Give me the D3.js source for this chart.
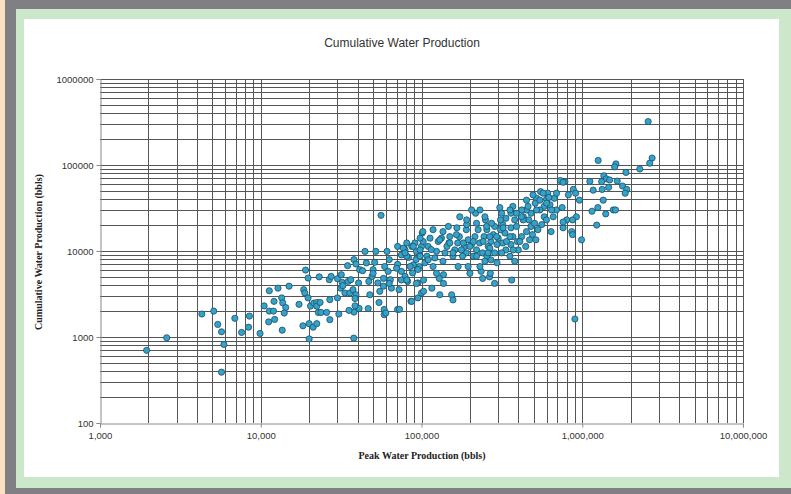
<!DOCTYPE html>
<html>
<head>
<meta charset="utf-8">
<script src="https://cdn.jsdelivr.net/npm/d3@7"></script>
<style>
  html, body { margin: 0; padding: 0; background: #7f7f84; }
  svg { display: block; }
</style>
</head>
<body>
<svg width="791" height="494"></svg>
<script>
const width = 791;
const height = 494;

// chart text
const chartTitle = "Cumulative Water Production";
const xTitle = "Peak Water Production (bbls)";
const yTitle = "Cumulative Water Production (bbls)";

// axis domains and labelled ticks
const xDomain = [1000, 10000000];
const yDomain = [100, 1000000];
const xLabelTicks = [1000, 10000, 100000, 1000000, 10000000];
const yLabelTicks = [100, 1000, 10000, 100000, 1000000];

// wells: peak water (bbls) vs cumulative water (bbls)
const peakWater = [
  1950, 2600, 4300, 5100, 5400, 5700, 5900, 5700, 6900, 8500, 8400, 7600, 9900,
  11300, 12800, 15000, 10500, 11300, 12000, 12100, 13500, 13700, 14300, 14000, 11200, 12200, 13600,
  17300, 18300, 20000, 20000, 21200, 22300, 19000, 19700, 18500, 18800, 19700, 20400, 21400, 22300,
  22300, 23400, 22800, 23700, 25700, 23100, 26700, 27400, 26900, 26900, 30600, 30000, 32100, 31400,
  32400, 33400, 35000, 36300, 38000, 34700, 39100, 35800, 37500, 39100, 38600, 38000, 35400, 37900,
  40900, 40600, 41200, 43000, 44500, 45400, 47000, 47700, 46600, 52000, 51100, 50000, 49300, 53500,
  55000, 54400, 58600, 58600, 56000, 59000, 61000, 63000, 62000, 64000, 65000, 71000, 71000, 75000,
  79000, 83000, 71000, 75000, 79000, 82000, 72500, 86000, 95000, 88000, 95000, 92500, 97000, 101000,
  100000, 50000, 58000, 58000, 63000, 70000, 75000, 81000, 87000, 93000, 97000, 103000, 100000, 60000,
  38600, 30000, 31700,
  2570000, 2720000, 2630000, 2280000, 1870000, 1620000, 1590000, 1256000, 1362000, 1410000, 1320000,
  1480000, 1650000, 1115000, 1170000, 1330000, 1460000, 1780000, 1890000, 1850000, 1350000, 1250000,
  1150000, 1400000, 1560000, 1610000, 1230000, 990000, 900000, 880000, 910000, 960000, 820000, 780000,
  730000, 760000, 750000, 920000, 870000, 800000, 760000, 860000, 870000, 760000, 690000, 670000,
  660000, 640000, 630000, 610000, 600000, 580000, 620000, 550000, 520000, 510000, 580000, 560000,
  530000, 490000, 480000, 450000, 430000, 420000, 465000, 480000, 505000, 450000, 470000, 515000,
  445000, 420000, 395000, 400000, 370000, 360000, 380000, 360000, 370000, 360000, 355000, 380000,
  364000, 335000, 320000, 315000, 310000, 330000, 310000, 300000, 320000, 335000, 315000, 295000,
  285000, 280000, 270000, 285000, 270000, 295000, 265000, 285000, 268000, 250000, 255000, 245000,
  260000, 240000, 255000, 248000, 230000, 235000, 240000, 217000, 225000, 215000, 220000, 210000,
  205000, 200000, 190000, 195000, 185000, 190000, 180000, 172000, 168000, 166000, 161000, 157000,
  150000, 147000, 154000, 157000, 148000, 144000, 140000, 137000, 130000, 137000, 129000, 133000,
  127000, 124000, 121000, 118000, 116000, 113000, 110000, 108000, 105000, 103000, 102000, 98000,
  95000, 93000, 87000, 81000, 81000, 77000, 73000, 91000, 89000,
  102500, 115000, 130000, 150000, 157000, 177000, 200000, 220000, 242000, 266000, 293000, 338000,
  98000, 110000, 136000, 169000, 195000, 231000, 259000, 372000, 390000, 429000, 355000, 254000,
  220000, 191000, 165000, 136000, 118000, 98000, 89000, 79000, 85000, 124000, 545000, 599000,
  450000, 494000,
  231000, 248000, 273000, 307000, 322000, 390000, 419000, 460000, 520000, 545000, 571000, 600000,
  644000, 692000, 191000, 173000, 205000, 266000, 355000, 409000, 210000, 182000
];

const cumWater = [
  700, 980, 1850, 2000, 1400, 1150, 820, 390, 1650, 1750, 1300, 1130, 1100,
  3450, 3700, 3900, 2300, 2000, 2000, 2600, 2850, 2500, 2200, 1900, 1500, 1600, 1200,
  2400, 1350, 950, 1430, 1300, 1430, 6000, 4850, 3550, 3250, 2850, 2290, 2480, 2520,
  2280, 2520, 1930, 1930, 1930, 5000, 4640, 5070, 2720, 1590, 1850, 4760, 4320, 3700,
  3950, 3250, 4430, 4640, 7940, 6750, 7060, 3250, 3550, 3100, 2800, 1950, 2040, 970,
  2150, 4250, 6060, 5900, 9900, 7270, 4430, 3100, 2140, 9900, 7380, 6060, 5070, 4250,
  3400, 2520, 2090, 1820, 26000, 6600, 9900, 7940, 5800, 4640, 3700, 2090, 11300, 9000,
  10300, 8400, 7000, 5800, 5070, 4430, 3550, 2600, 2850, 5560, 4250, 7940, 9000, 16200,
  11300, 5500, 4800, 3900, 4200, 6300, 4600, 12400, 11300, 9900, 6600, 4600, 3250, 1900,
  2300, 2850, 5300,
  320000, 120500, 105000, 89800, 82000, 103000, 95000, 113000, 75000, 69000, 64000,
  67000, 65000, 64500, 51000, 52000, 55000, 57000, 52000, 47000, 39000, 32000,
  29000, 27000, 30000, 30000, 20000, 13500, 1620, 52000, 47000, 39000, 45000, 64000,
  66000, 63000, 32000, 25000, 23000, 23000, 18600, 16800, 15500, 21700, 30000, 41000,
  25000, 16800, 34500, 47000, 40000, 33000, 42000, 49000, 41000, 36000, 25000, 20300,
  17700, 15500, 27500, 30000, 25000, 30000, 23000, 19300, 21000, 16800, 13500, 13500,
  11300, 14700, 12900, 10300, 33000, 27500, 23000, 18600, 14700, 11900, 8700, 7600,
  4600, 24000, 20300, 27500, 23000, 16200, 17700, 14100, 12400, 10300, 9500, 11900,
  19300, 15500, 12900, 9500, 7900, 7300, 5000, 4200, 5500, 23000, 17700, 14700,
  11300, 9500, 8700, 7600, 12400, 5800, 4800, 27500, 17700, 14700, 10300, 8700,
  11900, 5500, 17700, 13500, 11300, 9500, 8700, 14700, 12400, 18600, 10300, 8700,
  14700, 19300, 3100, 2700, 12400, 11300, 9500, 5300, 3100, 4200, 4800, 14100,
  12900, 9900, 8300, 6600, 3700, 14100, 11300, 8700, 7300, 3400, 16800, 10300,
  6100, 4200, 2600, 4600, 8700, 10800, 2100, 12400, 6900,
  12900, 10400, 13500, 12400, 9500, 10300, 11300, 8700, 12900, 10800, 14700, 12900,
  8700, 7900, 7600, 6600, 6600, 6600, 9500, 10300, 19300, 23000, 30000, 19300,
  21000, 20300, 15500, 16800, 17700, 14100, 11300, 9500, 6600, 5500, 30000, 23000,
  39000, 45000,
  30000, 25000, 21000, 32000, 18600, 27500, 25000, 33000, 30000, 39000, 47000, 36000,
  30000, 47000, 23000, 25000, 30000, 14700, 14700, 12900, 12900, 12400
];

const wells = peakWater.map((p, i) => ({ peak: p, cum: cumWater[i] }));

// plot box
const plot = { left: 100, right: 743, top: 79, bottom: 423 };

const svg = d3.select("svg");

// frame: peach strip, grey border, green mat, white card
svg.append("rect").attr("width", width).attr("height", height).attr("fill", "#7f7f84");
svg.append("rect").attr("width", 5).attr("height", height).attr("fill", "#fde0c2");
svg.append("rect").attr("x", 16).attr("y", 9).attr("width", width - 16).attr("height", 479).attr("fill", "#cde7cb");
svg.append("rect").attr("x", 24).attr("y", 19).attr("width", 755).attr("height", 458).attr("fill", "#fff");

const x = d3.scaleLog().domain(xDomain).range([plot.left, plot.right]);
const y = d3.scaleLog().domain(yDomain).range([plot.bottom, plot.top]);

const xGrid = x.ticks();
const yGrid = y.ticks();

// grid lines (majors and minors alike)
const grid = svg.append("g").attr("stroke", "#555").attr("stroke-width", 1).attr("shape-rendering", "crispEdges");

grid.selectAll("line.h")
  .data(yGrid.filter(d => d > yDomain[0]))
  .enter().append("line")
  .attr("class", "h")
  .attr("x1", plot.left)
  .attr("x2", plot.right)
  .attr("y1", d => Math.round(y(d)) + 0.5)
  .attr("y2", d => Math.round(y(d)) + 0.5);

grid.selectAll("line.v")
  .data(xGrid.filter(d => d > xDomain[0]))
  .enter().append("line")
  .attr("class", "v")
  .attr("y1", plot.top)
  .attr("y2", plot.bottom)
  .attr("x1", d => Math.round(x(d)) + 0.5)
  .attr("x2", d => Math.round(x(d)) + 0.5);

// axes
const axisColor = "#8a8a8a";

const yAxis = svg.append("g")
  .attr("transform", `translate(${plot.left + 0.5},0)`)
  .call(d3.axisLeft(y).tickValues(yLabelTicks).tickSize(4).tickFormat(d3.format("d")));

const xAxis = svg.append("g")
  .attr("transform", `translate(0,${plot.bottom + 0.5})`)
  .call(d3.axisBottom(x).tickValues(xLabelTicks).tickSize(4).tickFormat(d3.format(",")));

[xAxis, yAxis].forEach(g => {
  g.select(".domain").attr("stroke", axisColor);
  g.selectAll(".tick line").attr("stroke", axisColor);
  g.selectAll(".tick text")
    .attr("fill", "#333")
    .attr("font-family", "Arial, 'Liberation Sans', sans-serif")
    .attr("font-size", "9.5px");
});
yAxis.selectAll(".tick text").attr("x", -7);
xAxis.selectAll(".tick text").attr("y", 9);

// points
svg.append("g").selectAll("circle")
  .data(wells)
  .enter().append("circle")
  .attr("cx", d => x(d.peak))
  .attr("cy", d => y(d.cum))
  .attr("r", 3.1)
  .attr("fill", "#35a2c9")
  .attr("stroke", "#1d4f66")
  .attr("stroke-width", 0.8);

// titles
svg.append("text")
  .attr("x", 402)
  .attr("y", 47)
  .attr("text-anchor", "middle")
  .attr("font-family", "Arial, 'Liberation Sans', sans-serif")
  .attr("font-size", "12px")
  .attr("fill", "#333")
  .text(chartTitle);

svg.append("text")
  .attr("x", 422)
  .attr("y", 459)
  .attr("text-anchor", "middle")
  .attr("font-family", "'Times New Roman', 'Liberation Serif', serif")
  .attr("font-weight", "bold")
  .attr("font-size", "10px")
  .attr("fill", "#222")
  .text(xTitle);

svg.append("text")
  .attr("transform", "rotate(-90)")
  .attr("x", -252)
  .attr("y", 42)
  .attr("text-anchor", "middle")
  .attr("font-family", "'Times New Roman', 'Liberation Serif', serif")
  .attr("font-weight", "bold")
  .attr("font-size", "10px")
  .attr("fill", "#222")
  .text(yTitle);
</script>
</body>
</html>
